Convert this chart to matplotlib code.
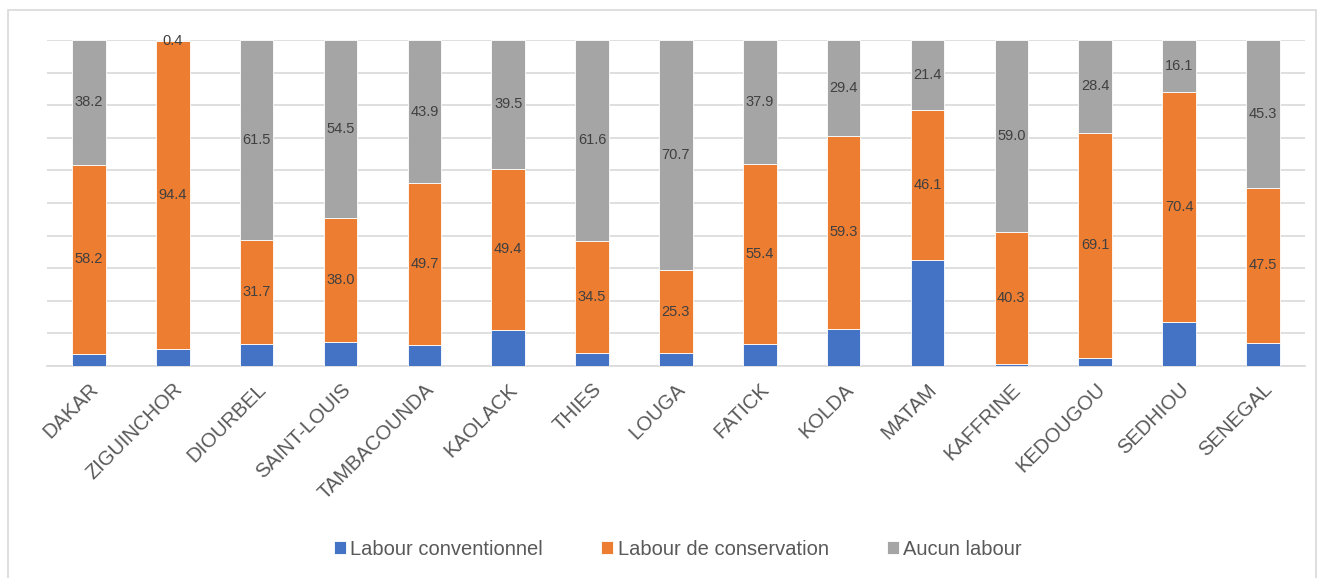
import matplotlib.pyplot as plt
from matplotlib.patches import Rectangle
import numpy as np

plt.rcParams['font.family'] = ['Liberation Sans', 'DejaVu Sans']

regions = ["DAKAR", "ZIGUINCHOR", "DIOURBEL", "SAINT-LOUIS", "TAMBACOUNDA",
           "KAOLACK", "THIES", "LOUGA", "FATICK", "KOLDA", "MATAM",
           "KAFFRINE", "KEDOUGOU", "SEDHIOU", "SENEGAL"]
conservation = [58.2, 94.4, 31.7, 38.0, 49.7, 49.4, 34.5, 25.3, 55.4, 59.3,
                46.1, 40.3, 69.1, 70.4, 47.5]
aucun = [38.2, 0.4, 61.5, 54.5, 43.9, 39.5, 61.6, 70.7, 37.9, 29.4,
         21.4, 59.0, 28.4, 16.1, 45.3]
conventionnel = [3.6, 5.2, 6.8, 7.5, 6.4, 11.1, 3.9, 4.0, 6.7, 11.3,
                 32.5, 0.7, 2.5, 13.5, 7.2]

c_blue, c_orange, c_grey = "#4472C4", "#ED7D31", "#A5A5A5"
txt = "#595959"

fig = plt.figure(figsize=(13.24, 5.78), dpi=100)
ax = fig.add_axes([0.0355, 0.3668, 0.95, 0.564])

x = np.arange(len(regions))
conv = np.array(conventionnel)
cons = np.array(conservation)
auc = np.array(aucun)

w = 0.4
b1 = ax.bar(x, conv, w, color=c_blue, edgecolor="white", linewidth=0.6,
            label="Labour conventionnel", zorder=3)
b2 = ax.bar(x, cons, w, bottom=conv, color=c_orange, edgecolor="white",
            linewidth=0.6, label="Labour de conservation", zorder=3)
b3 = ax.bar(x, auc, w, bottom=conv + cons, color=c_grey, edgecolor="white",
            linewidth=0.6, label="Aucun labour", zorder=3)

ax.bar_label(b2, labels=[f"{v:.1f}" for v in cons], label_type="center",
             fontsize=10.5, color="#404040")
ax.bar_label(b3, labels=[f"{v:.1f}" for v in auc], label_type="center",
             fontsize=10.5, color="#404040")

ax.set_xlim(-0.5, len(regions) - 0.5)
ax.set_ylim(0, 100)
ax.set_yticks(np.arange(0, 101, 10))
ax.set_yticklabels([])
ax.tick_params(axis="y", length=0)
ax.tick_params(axis="x", length=0, pad=10)
ax.grid(axis="y", color="#D9D9D9", linewidth=1.2, zorder=0)
for s in ["top", "right", "left"]:
    ax.spines[s].set_visible(False)
ax.spines["bottom"].set_color("#D9D9D9")
ax.spines["bottom"].set_linewidth(1.2)

ax.set_xticks(x)
ax.set_xticklabels(regions, rotation=45, ha="right", rotation_mode="anchor",
                   fontsize=14.5, color=txt)

fig.legend(handles=[b1, b2, b3], loc="center", bbox_to_anchor=(0.512, 0.05),
           ncol=3, frameon=False, fontsize=14.5, labelcolor=txt,
           handlelength=0.6, handleheight=0.6, handletextpad=0.2,
           columnspacing=2.9)

# cadre gris autour du graphique
fig.patches.append(Rectangle((8 / 1324, -0.01), 1308 / 1324, 0.993,
                             transform=fig.transFigure, fill=False,
                             edgecolor="#D9D9D9", linewidth=1.2))

fig.savefig("out.png", dpi=100)
